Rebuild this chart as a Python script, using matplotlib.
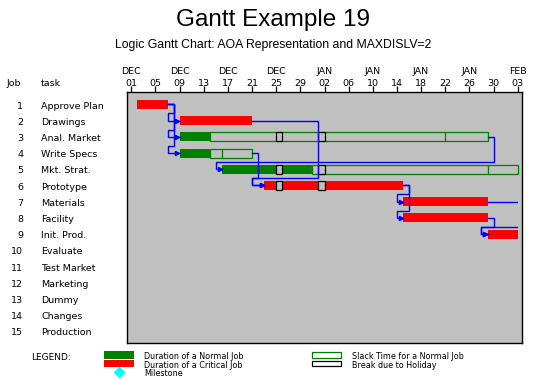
import datetime as dt
import numpy as np
import matplotlib
matplotlib.use("Agg")
import matplotlib.pyplot as plt
from matplotlib.patches import Rectangle
from matplotlib.transforms import blended_transform_factory

plt.rcParams['font.family'] = ['DejaVu Sans']

# project data (days counted from DEC 01)
start_date = dt.date(1991, 12, 1)
page_end = 64  # FEB 03, the chart is cut at this date

job_ids = list(range(1, 16))
tasks = ["Approve Plan", "Drawings", "Anal. Market", "Write Specs", "Mkt. Strat.",
         "Prototype", "Materials", "Facility", "Init. Prod.", "Evaluate",
         "Test Market", "Marketing", "Dummy", "Changes", "Production"]
early_start = [1, 8, 8, 8, 15, 22, 45, 45, 59]
early_finish = [6, 20, 13, 13, 30, 45, 59, 59, 69]
late_finish = [6, 20, 59, 20, 64, 45, 59, 59, 69]
slack_split = [None, None, 52, 15, 59, None, None, None, None]
critical = [True, True, False, False, False, True, True, True, True]
holidays = [24, 31]  # DEC 25, JAN 01

# (from job, to job, day where the link goes down)
links = [(1, 2, 7), (1, 3, 7), (1, 4, 7), (2, 6, 31), (3, 5, 60),
         (4, 6, 21), (6, 7, 46), (6, 8, 46), (7, 9, 66), (8, 9, 60)]

RED = "#ff0000"
GREEN = "#008000"
GRAY = "#c0c0c0"
BLUE = "#0000ff"

W, H = 546, 380
fig = plt.figure(figsize=(W / 100, H / 100), dpi=100)

# overlay axes in pixel units for the texts around the chart
ov = fig.add_axes([0, 0, 1, 1])
ov.set_xlim(0, W)
ov.set_ylim(H, 0)
ov.axis("off")

left, right, top, bottom = 126.7, 522.3, 92.3, 343.0
ax = fig.add_axes([left / W, 1 - bottom / H, (right - left) / W, (bottom - top) / H])
ax.set_facecolor(GRAY)
ax.set_xlim(-0.76, 64.76)
ax.set_ylim(15.72, 0.25)
ax.set_yticks([])
for s in ax.spines.values():
    s.set_linewidth(1.0)

tick_days = list(range(0, page_end + 1, 4))
ax.set_xticks(tick_days)
ax.xaxis.tick_top()
ax.tick_params(axis="x", direction="out", length=4, width=0.9, labeltop=False, labelbottom=False)

xfig = blended_transform_factory(ax.transData, ov.transData)
for i, d in enumerate(tick_days):
    day = start_date + dt.timedelta(days=d)
    if i % 2 == 0:
        ax.text(d, 72, day.strftime("%b").upper(), transform=xfig, ha="center", va="center", fontsize=6.8)
    ax.text(d, 83, day.strftime("%d"), transform=xfig, ha="center", va="center", fontsize=6.8)

clip = Rectangle((-1, 0), page_end + 1, 16, transform=ax.transData)
bh = 0.55

for i in range(len(early_start)):
    row = i + 1
    s, f, lf = early_start[i], min(early_finish[i], page_end), min(late_finish[i], page_end)
    col = RED if critical[i] else GREEN
    ax.add_patch(Rectangle((s, row - bh / 2), f - s, bh, facecolor=col, edgecolor="none", zorder=2))
    if lf > f:
        ax.add_patch(Rectangle((f, row - bh / 2), lf - f, bh, facecolor="none",
                               edgecolor=GREEN, linewidth=0.9, zorder=2))
    if slack_split[i] is not None:
        ax.plot([slack_split[i]] * 2, [row - bh / 2, row + bh / 2], color=GREEN, lw=0.9, zorder=2)
    for h in holidays:
        if s <= h and h + 1 <= lf:
            ax.add_patch(Rectangle((h, row - bh / 2), 1, bh, facecolor=GRAY,
                                   edgecolor="black", linewidth=0.9, zorder=3))

# precedence links
for a, b, drop in links:
    x0 = min(late_finish[a - 1], page_end)
    x1 = early_start[b - 1]
    xl = min(x0, x1 - 1)
    yb = b - 0.45
    xs = [x0, drop, drop, xl, xl, x1]
    ys = [a, a, yb, yb, b, b]
    ln, = ax.plot(xs, ys, color=BLUE, lw=1.0, zorder=4, solid_joinstyle="miter")
    ln.set_clip_path(clip)
    ax.plot(x1 - 0.35, b, marker=">", markersize=3, color=BLUE, zorder=4)

# row labels
yrow = blended_transform_factory(ov.transData, ax.transData)
ov.text(14, 83, "Job", ha="center", va="center", fontsize=6.8)
ov.text(41, 83, "task", ha="left", va="center", fontsize=6.8)
for j, t in zip(job_ids, tasks):
    ov.text(23, j + 0.1, str(j), transform=yrow, ha="right", va="center", fontsize=6.8)
    ov.text(41, j + 0.1, t, transform=yrow, ha="left", va="center", fontsize=6.8)

# titles
ov.text(273, 20, "Gantt Example 19", ha="center", va="center", fontsize=17.5,
        family="Liberation Sans")
ov.text(273, 45, "Logic Gantt Chart: AOA Representation and MAXDISLV=2",
        ha="center", va="center", fontsize=8.8, family="Liberation Sans")

# legend
lf_size = 5.8
ov.text(31, 357, "LEGEND:", ha="left", va="center", fontsize=6.5)
ov.add_patch(Rectangle((104.3, 351), 29.7, 7.7, facecolor=GREEN, edgecolor="none"))
ov.add_patch(Rectangle((104.3, 359.7), 29.7, 7.3, facecolor=RED, edgecolor="none"))
ov.plot(119, 371.5, marker="D", markersize=5, color="#00ffff")
ov.text(144, 356.5, "Duration of a Normal Job", ha="left", va="center", fontsize=lf_size)
ov.text(144, 365, "Duration of a Critical Job", ha="left", va="center", fontsize=lf_size)
ov.text(144, 373.5, "Milestone", ha="left", va="center", fontsize=lf_size)
ov.add_patch(Rectangle((312.3, 351.7), 28.7, 6.6, facecolor="none", edgecolor=GREEN, linewidth=0.9))
ov.add_patch(Rectangle((312.3, 360.7), 28.7, 5.3, facecolor="none", edgecolor="black", linewidth=0.9))
ov.text(352.3, 356.5, "Slack Time for a Normal Job", ha="left", va="center", fontsize=lf_size)
ov.text(352.3, 365, "Break due to Holiday", ha="left", va="center", fontsize=lf_size)

fig.savefig("out.png", dpi=100)
